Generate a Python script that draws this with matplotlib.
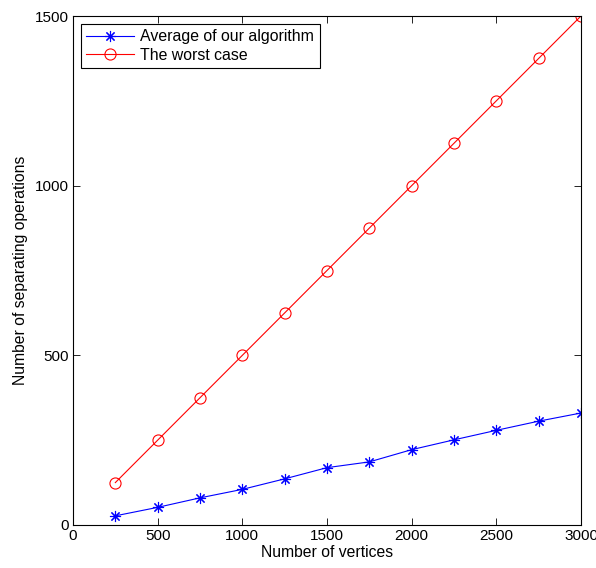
import matplotlib
matplotlib.use("Agg")
import matplotlib.pyplot as plt

vertices = [250, 500, 750, 1000, 1250, 1500, 1750, 2000, 2250, 2500, 2750, 3000]
average_ops = [27, 52, 80, 105, 136, 169, 186, 222, 251, 279, 306, 330]
worst_ops = [125, 250, 375, 500, 625, 750, 875, 1000, 1125, 1250, 1375, 1500]
xticks = [0, 500, 1000, 1500, 2000, 2500, 3000]
yticks = [0, 500, 1000, 1500]

plt.rcParams['font.family'] = ['Liberation Sans', 'DejaVu Sans']
plt.rcParams['font.size'] = 11

fig = plt.figure(figsize=(5.96, 5.68), dpi=100)
ax = fig.add_axes([73/596, 43/568, 508/596, 509/568])

ax.plot(vertices, average_ops, color='blue', marker=(8, 2, 0), markersize=8,
        linewidth=0.8, markeredgewidth=0.8, label='Average of our algorithm')
ax.plot(vertices, worst_ops, color='red', marker='o', markersize=8,
        markerfacecolor='none', linewidth=0.8, markeredgewidth=0.8,
        label='The worst case')

ax.set_xlim(0, 3000)
ax.set_ylim(0, 1500)
ax.set_xticks(xticks)
ax.set_yticks(yticks)
ax.tick_params(direction='in', top=True, right=True, length=5, width=0.6,
               labelsize=11, pad=3)
for s in ax.spines.values():
    s.set_linewidth(0.8)
ax.set_xlabel('Number of vertices', fontsize=11.3, labelpad=1)
ax.set_ylabel('Number of separating operations', fontsize=11.3, labelpad=5)

leg = ax.legend(loc='upper left', fontsize=11.4, fancybox=False, framealpha=1,
                edgecolor='black', borderaxespad=0.5, handlelength=3.0,
                handletextpad=0.4, borderpad=0.35, labelspacing=0.2,
                numpoints=1)
leg.get_frame().set_linewidth(0.8)

fig.savefig('out.png', dpi=100)
